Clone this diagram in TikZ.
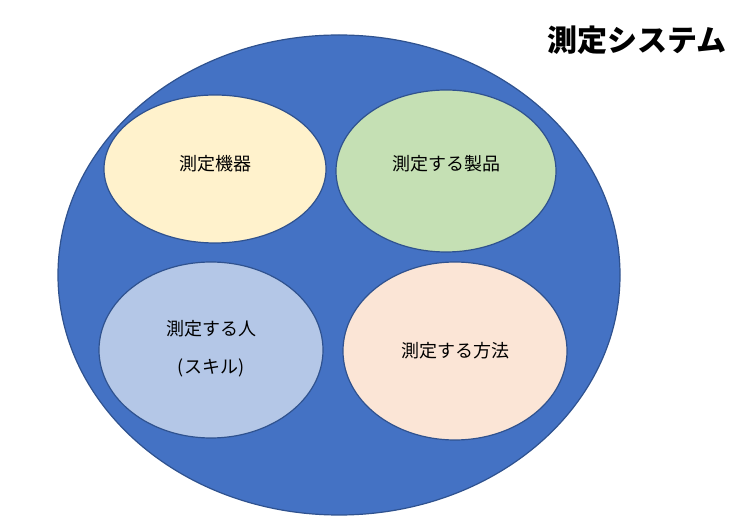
\documentclass[tikz,border=0pt]{standalone}
\usepackage{fontspec}
\setmainfont{Noto Sans CJK JP}
\definecolor{bigblue}{HTML}{4472C4}
\definecolor{edge}{HTML}{2F528F}
\definecolor{cy}{HTML}{FFF2CC}
\definecolor{cg}{HTML}{C5E0B4}
\definecolor{cb}{HTML}{B4C7E7}
\definecolor{cp}{HTML}{FBE5D6}
\begin{document}
\begin{tikzpicture}[x=1pt,y=-1pt,
  el/.style={draw=edge, line width=1.2pt},
  lbl/.style={font=\fontsize{18}{38}\selectfont, align=center}]
\useasboundingbox[fill=white] (0,0) rectangle (740,526);
\draw[el, fill=bigblue] (339,275) ellipse [x radius=281, y radius=240];
\draw[el, fill=cy] (215,169) ellipse [x radius=111, y radius=74];
\draw[el, fill=cg] (446,171) ellipse [x radius=110, y radius=81];
\draw[el, fill=cb] (211,350) ellipse [x radius=112, y radius=88];
\draw[el, fill=cp] (455,351) ellipse [x radius=112, y radius=89];
\node[lbl] (a) at (215,164) {測定機器};
\node[lbl] (b) at (446,164) {測定する製品};
\node[lbl] (c) at (211,349) {測定する人\\(スキル)};
\node[lbl] (d) at (455,351) {測定する方法};
\node[font=\bfseries\fontsize{30}{36}\selectfont] (t) at (637,40) {測定システム};
\end{tikzpicture}
\end{document}
